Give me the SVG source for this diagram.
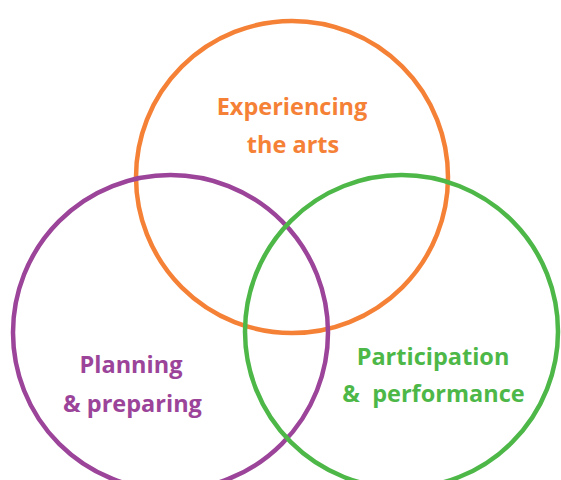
<svg xmlns="http://www.w3.org/2000/svg" width="561" height="480" viewBox="0 0 561 480">
<style>
.c{fill:none;stroke-width:4.5}
.t{font-family:"Open Sans","Noto Sans",sans-serif;font-weight:bold;font-size:23.5px;text-anchor:middle}
.o{stroke:#F58137}.ot{fill:#F58137}
.p{stroke:#9B4499}.pt{fill:#9B4499}
.g{stroke:#4DB848}.gt{fill:#4DB848}
</style>
<rect width="561" height="480" fill="#fff"/>
<g id="experiencing">
<circle class="c o" cx="292" cy="177" r="156"/>
<text class="t ot" x="292" y="115">Experiencing</text>
<text class="t ot" x="293" y="153">the arts</text>
</g>
<g id="planning">
<circle class="c p" cx="170.5" cy="332.5" r="157.5"/>
<text class="t pt" x="131" y="373">Planning</text>
<text class="t pt" x="132.5" y="412">&amp; preparing</text>
</g>
<g id="participation">
<circle class="c g" cx="401.5" cy="331.5" r="156.5"/>
<text class="t gt" x="433" y="365">Participation</text>
<text class="t gt" x="433.5" y="402" xml:space="preserve">&amp;  performance</text>
</g>
<g id="connectors"/>
</svg>
